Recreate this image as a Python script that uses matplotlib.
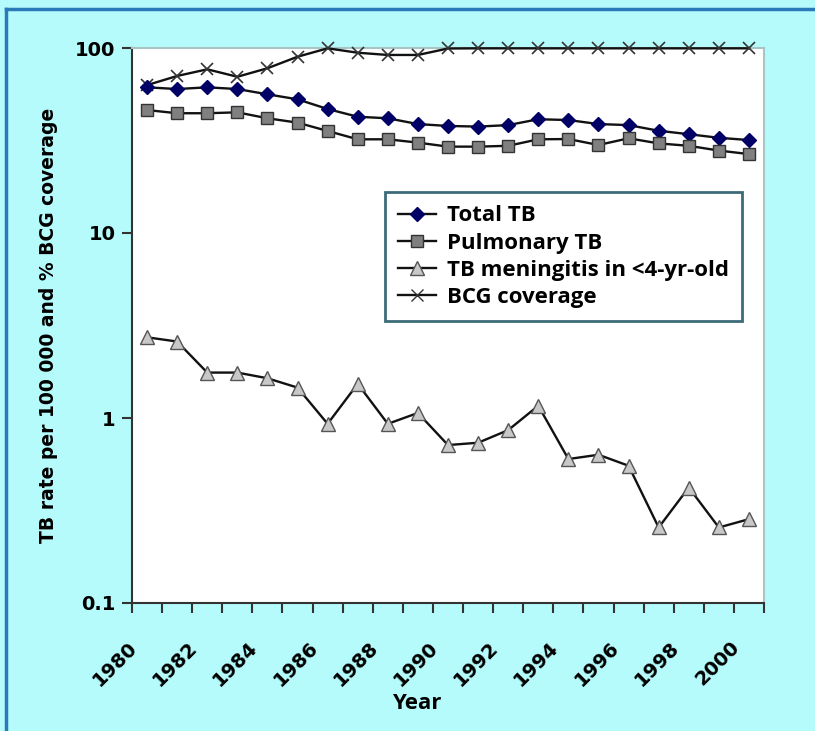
import numpy as np
import matplotlib
matplotlib.use("Agg")
import matplotlib.pyplot as plt
from matplotlib.lines import Line2D
from matplotlib.transforms import ScaledTranslation

# data
years = list(range(1980, 2001))
total_tb = [61.3, 60.0, 61.3, 60.0, 56.2, 52.8, 46.8, 42.5, 41.7, 38.8, 37.9,
            37.6, 38.3, 41.2, 40.8, 38.8, 38.3, 35.7, 34.2, 32.7, 31.8]
pulmonary_tb = [46.2, 44.4, 44.4, 44.9, 41.7, 39.5, 35.6, 32.1, 32.1, 30.8, 29.3,
                29.3, 29.6, 32.1, 32.2, 29.9, 32.5, 30.5, 29.6, 27.9, 26.7]
meningitis = [2.73, 2.59, 1.76, 1.76, 1.64, 1.46, 0.93, 1.53, 0.93, 1.065, 0.714,
              0.735, 0.86, 1.165, 0.60, 0.633, 0.552, 0.256, 0.421, 0.256, 0.284]
bcg = [63, 70.6, 76.7, 69.9, 77.7, 89.7, 99.6, 94.3, 91.7, 91.7, 99.4,
       99.6, 99.6, 99.6, 99.6, 99.6, 99.6, 99.6, 99.6, 99.6, 99.6]
labels = ['Total TB', 'Pulmonary TB', 'TB meningitis in <4-yr-old', 'BCG coverage']

bg = '#b5fbfb'
fig = plt.figure(figsize=(8.15, 7.31), dpi=100, facecolor=bg)
ax = fig.add_axes([132/815, 1-603/731, 632/815, 555/731])
ax.set_facecolor('white')

lc = '#111111'
ax.plot(years, bcg, color=lc, lw=1.7, marker='x', ms=8, mew=1.2, mec='#333333', clip_on=False, zorder=3)
ax.plot(years, total_tb, color=lc, lw=1.7, marker='D', ms=7, mfc='#000066', mec='#000066', clip_on=False, zorder=4)
ax.plot(years, pulmonary_tb, color=lc, lw=1.7, marker='s', ms=8, mfc='#808080', mec='#333333', mew=1, clip_on=False, zorder=4)
ax.plot(years, meningitis, color=lc, lw=1.7, marker='^', ms=10, mfc='#c8c8c8', mec='#555555', mew=1, clip_on=False, zorder=4)

ax.set_yscale('log')
ax.set_ylim(0.1, 100)
ax.set_xlim(1979.5, 2000.5)
ax.set_yticks([0.1, 1, 10, 100])
ax.set_yticklabels(['0.1', '1', '10', '100'])
ax.yaxis.set_minor_locator(matplotlib.ticker.NullLocator())
ax.set_xticks(years[::2])
ax.set_xticklabels([str(y) for y in years[::2]], rotation=45, ha='right', va='top')
ax.set_xticks(np.arange(1979.5, 2001, 1.0), minor=True)
ax.tick_params(axis='x', which='major', length=0, pad=25)
ax.tick_params(axis='x', which='minor', length=7, width=1.5, color='#333333', direction='out')
ax.tick_params(axis='y', length=7, width=1.5, color='#333333', direction='out', pad=5)
for lab in ax.get_xticklabels() + ax.get_yticklabels():
    lab.set_fontfamily('DejaVu Sans')
    lab.set_fontweight('bold')
    lab.set_fontsize(14)
for lab in ax.get_xticklabels():
    lab.set_transform(lab.get_transform() + ScaledTranslation(-0.06, 0, fig.dpi_scale_trans))

for s in ['left', 'bottom']:
    ax.spines[s].set_color('#333333')
    ax.spines[s].set_linewidth(1.5)
for s in ['top', 'right']:
    ax.spines[s].set_color('#a8c4c4')
    ax.spines[s].set_linewidth(1.5)

ax.set_ylabel('TB rate per 100 000 and % BCG coverage', fontfamily='DejaVu Sans',
              fontweight='bold', fontsize=13.5, labelpad=12)
ax.set_xlabel('Year', fontfamily='Open Sans', fontweight='bold', fontsize=16)
ax.xaxis.set_label_coords(0.45, -0.163)

handles = [
    Line2D([], [], color=lc, lw=1.7, marker='D', ms=7, mfc='#000066', mec='#000066'),
    Line2D([], [], color=lc, lw=1.7, marker='s', ms=8, mfc='#808080', mec='#333333'),
    Line2D([], [], color=lc, lw=1.7, marker='^', ms=10, mfc='#c8c8c8', mec='#555555'),
    Line2D([], [], color=lc, lw=1.7, marker='x', ms=8, mec='#333333'),
]
leg = ax.legend(handles, labels, loc='upper left', bbox_to_anchor=(0.400, 0.7405),
                borderaxespad=0, fancybox=False, framealpha=1, handlelength=1.7,
                labelspacing=0.28, borderpad=0.6, handletextpad=0.5,
                prop={'family': 'Open Sans', 'weight': 'bold', 'size': 16})
leg.get_frame().set_edgecolor('#3c6b78')
leg.get_frame().set_linewidth(2)

# figure frame (left and top edges)
fig.add_artist(Line2D([6/815, 6/815], [0, 1-9/731], color='#2a7ab8', lw=2.5, transform=fig.transFigure))
fig.add_artist(Line2D([6/815, 1], [1-9/731, 1-9/731], color='#2a7ab8', lw=2.5, transform=fig.transFigure))

fig.savefig('out.png', dpi=100, facecolor=bg)
